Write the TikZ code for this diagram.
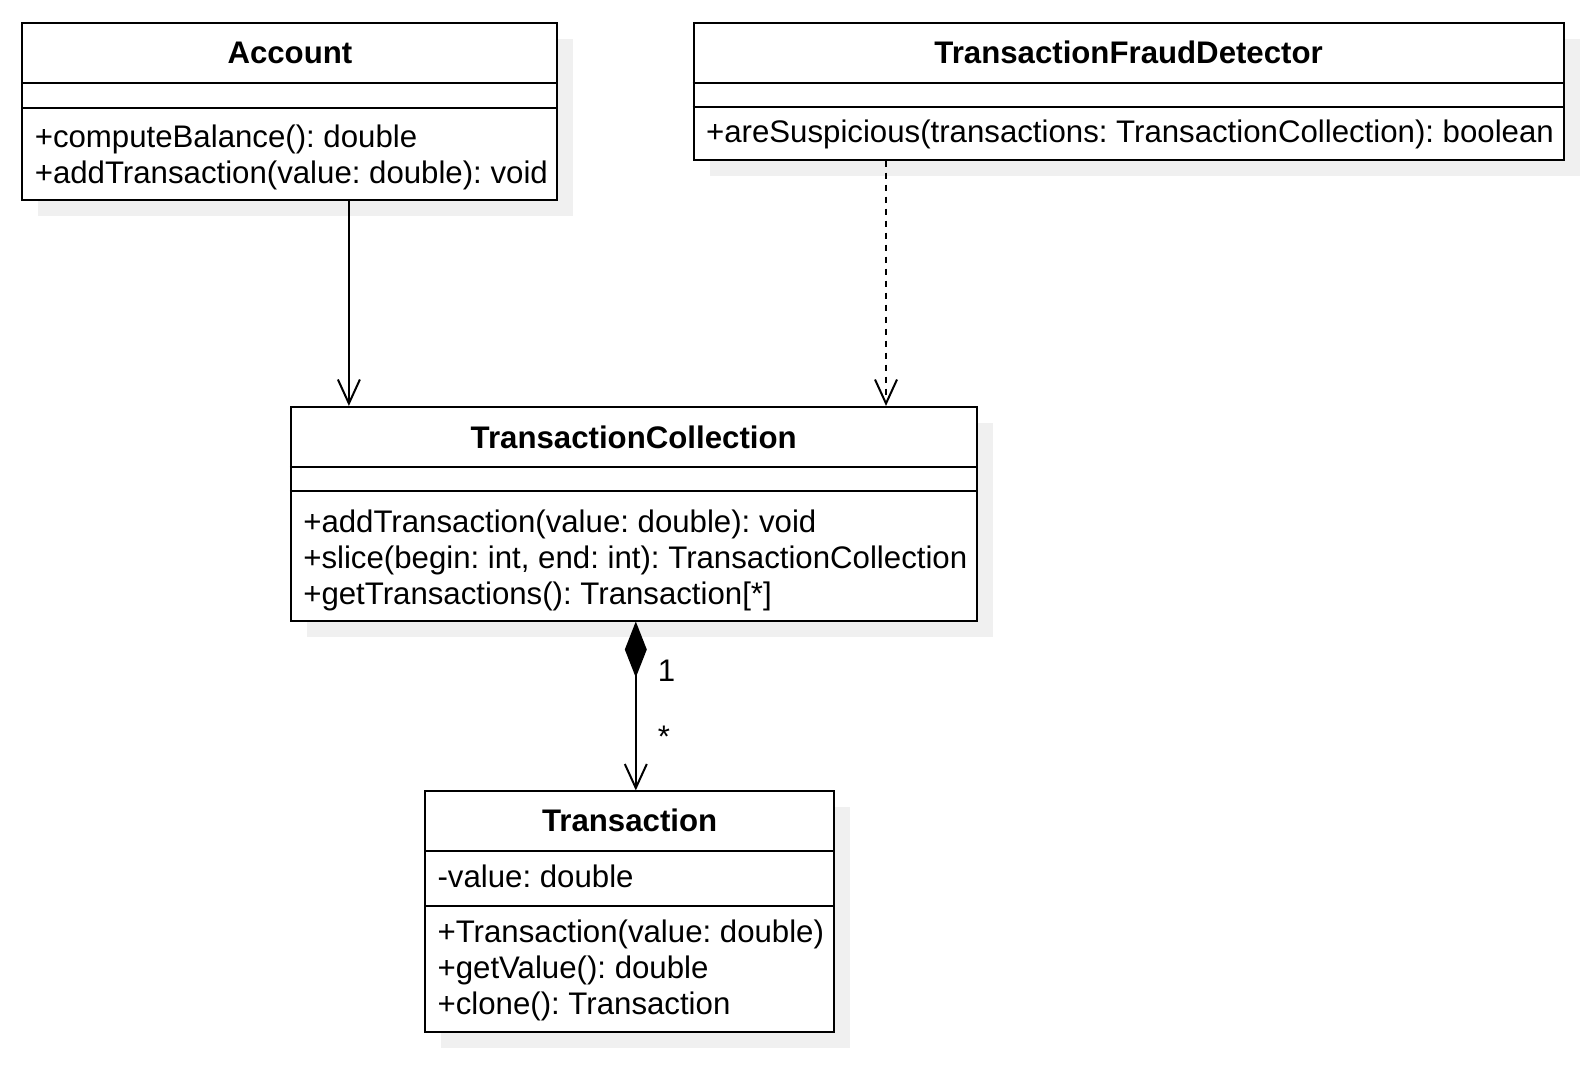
\documentclass[tikz,border=0pt]{standalone}
\usepackage{fontspec}
\setmainfont{Liberation Sans}
\frenchspacing
\usetikzlibrary{arrows.meta, shadows}

\begin{document}
\begin{tikzpicture}[x=0.5pt, y=-0.5pt, font=\fontsize{15.6}{18}\selectfont,
  cls/.style={draw, line width=1pt, fill=white, inner sep=0, general shadow={fill=black!6, shadow xshift=8pt, shadow yshift=-8pt}},
  ttl/.style={font=\fontsize{15.6}{18}\selectfont\bfseries},
  mbr/.style={anchor=west, align=left, inner sep=0, xshift=6.5pt},
  sep/.style={line width=1pt},
  lbl/.style={anchor=west, inner sep=0, xshift=10.5pt},
  assoc/.style={line width=1pt, -{Straight Barb[length=12pt, width=11pt]}},
  dep/.style={assoc, dash pattern=on 3pt off 3pt},
  comp/.style={line width=1pt, {Diamond[length=28pt, width=11pt]}-{Straight Barb[length=12pt, width=11pt]}}]
\path[use as bounding box, fill=white] (0,0) rectangle (1595,1087);
% classes
\node[cls, minimum width=267.5pt, minimum height=88.5pt] (acc) at (289.9,111.9) {};
\draw[sep] (acc.west |- 0,83.4) -- (acc.east |- 0,83.4);
\draw[sep] (acc.west |- 0,107.8) -- (acc.east |- 0,107.8);
\node[ttl] (acc-name) at (acc.north |- 0,53.4) {Account};
\node[mbr] (acc-ops) at (acc.west |- 0,157.1) {+computeBalance(): double\\+addTransaction(value: double): void};

\node[cls, minimum width=434.9pt, minimum height=68.15pt] (tfd) at (1128.6,91.55) {};
\draw[sep] (tfd.west |- 0,83.4) -- (tfd.east |- 0,83.4);
\draw[sep] (tfd.west |- 0,106.8) -- (tfd.east |- 0,106.8);
\node[ttl] (tfd-name) at (tfd.north |- 0,52.4) {TransactionFraudDetector};
\node[mbr] (tfd-ops) at (tfd.west |- 0,134.3) {+areSuspicious(transactions: TransactionCollection): boolean};

\node[cls, minimum width=342.8pt, minimum height=106.8pt] (tc) at (633.7,513.7) {};
\draw[sep] (tc.west |- 0,466.9) -- (tc.east |- 0,466.9);
\draw[sep] (tc.west |- 0,491.3) -- (tc.east |- 0,491.3);
\node[ttl] (tc-name) at (tc.north |- 0,436.9) {TransactionCollection};
\node[mbr] (tc-ops) at (tc.west |- 0,560) {+addTransaction(value: double): void\\+slice(begin: int, end: int): TransactionCollection\\+getTransactions(): Transaction[*]};

\node[cls, minimum width=204.45pt, minimum height=120.05pt] (tr) at (629.65,911.45) {};
\draw[sep] (tr.west |- 0,851.4) -- (tr.east |- 0,851.4);
\draw[sep] (tr.west |- 0,906.3) -- (tr.east |- 0,906.3);
\node[ttl] (tr-name) at (tr.north |- 0,820.4) {Transaction};
\node[mbr] (tr-attr) at (tr.west |- 0,876.8) {-value: double};
\node[mbr] (tr-ops) at (tr.west |- 0,970) {+Transaction(value: double)\\+getValue(): double\\+clone(): Transaction};
% relations
\draw[assoc] (acc.south -| 348.9,0) -- (tc.north -| 348.9,0);
\draw[dep] (tfd.south -| 886,0) -- (tc.north -| 886,0);
\draw[comp] (tc.south -| 635.8,0) -- node[lbl, pos=0.29] (one) {1} node[lbl, pos=0.68] (many) {*} (tr.north -| 635.8,0);
\end{tikzpicture}
\end{document}
